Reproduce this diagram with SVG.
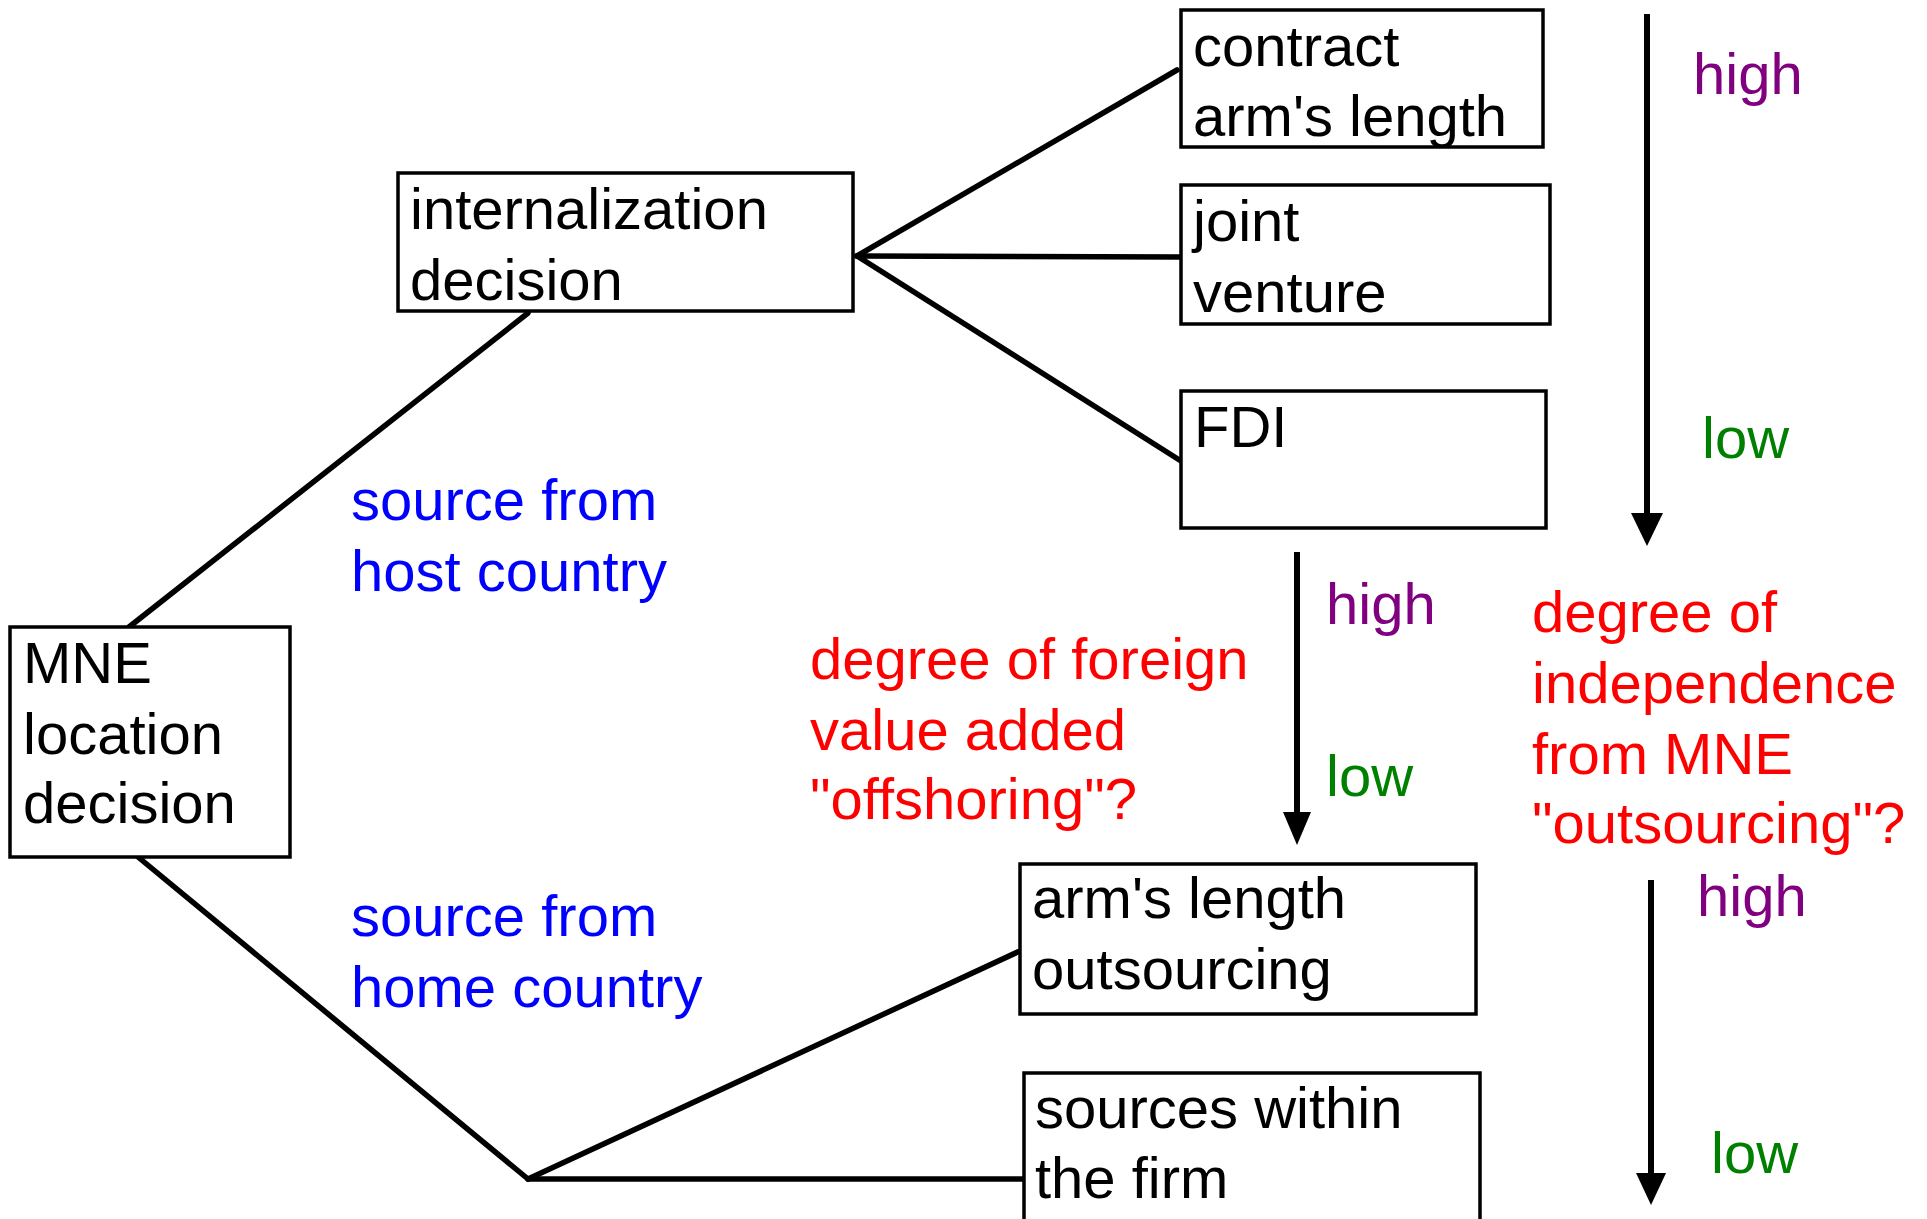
<svg xmlns="http://www.w3.org/2000/svg" width="1927" height="1219" viewBox="0 0 1927 1219">
<style>
text{font-family:"Liberation Sans",Arial,sans-serif;font-size:58px}
.box{fill:#fff;stroke:#000;stroke-width:3.5}
.ln{stroke:#000;stroke-width:5.5;fill:none;stroke-linecap:round}
.ar{stroke:#000;stroke-width:6;fill:none}
.hd{fill:#000}
.blk{fill:#000}
.pur{fill:#800080}
.grn{fill:#008000}
.red{fill:#ff0000}
.blu{fill:#0000ff}
</style>
<rect width="1927" height="1219" fill="#fff"/>
<g id="connectors">
<line class="ln" x1="129" y1="627" x2="528" y2="313"/>
<line class="ln" x1="132" y1="852" x2="528" y2="1179"/>
<line class="ln" x1="528" y1="1179" x2="1022" y2="950"/>
<line class="ln" x1="528" y1="1179" x2="1024" y2="1179"/>
<line class="ln" x1="857" y1="256" x2="1177" y2="70"/>
<line class="ln" x1="857" y1="256" x2="1181" y2="257"/>
<line class="ln" x1="857" y1="256" x2="1181" y2="461"/>
<line class="ar" x1="1647" y1="14" x2="1647" y2="515"/>
<path class="hd" d="M1631,513 L1663,513 L1647,546 Z"/>
<line class="ar" x1="1297" y1="552" x2="1297" y2="814"/>
<path class="hd" d="M1283,812 L1311,812 L1297,845 Z"/>
<line class="ar" x1="1651" y1="880" x2="1651" y2="1175"/>
<path class="hd" d="M1636,1173 L1666,1173 L1651,1205 Z"/>
</g>
<g id="mne">
<rect class="box" x="10" y="627" width="280" height="230"/>
<text class="blk" x="23" y="683">MNE</text>
<text class="blk" x="23" y="754">location</text>
<text class="blk" x="23" y="823">decision</text>
</g>
<g id="internalization">
<rect class="box" x="398" y="173" width="455" height="138"/>
<text class="blk" x="410" y="229">internalization</text>
<text class="blk" x="410" y="300">decision</text>
</g>
<g id="contract">
<rect class="box" x="1181" y="10" width="362" height="137"/>
<text class="blk" x="1193" y="66">contract</text>
<text class="blk" x="1193" y="136">arm's length</text>
</g>
<g id="joint">
<rect class="box" x="1181" y="185" width="369" height="139"/>
<text class="blk" x="1193" y="241">joint</text>
<text class="blk" x="1193" y="312">venture</text>
</g>
<g id="fdi">
<rect class="box" x="1181" y="391" width="365" height="137"/>
<text class="blk" x="1194" y="447">FDI</text>
</g>
<g id="armslength">
<rect class="box" x="1020" y="864" width="456" height="150"/>
<text class="blk" x="1032" y="918">arm's length</text>
<text class="blk" x="1032" y="989">outsourcing</text>
</g>
<g id="within">
<rect class="box" x="1024" y="1073" width="456" height="160"/>
<text class="blk" x="1035" y="1128">sources within</text>
<text class="blk" x="1035" y="1198">the firm</text>
</g>
<g id="labels">
<text class="blu" x="351" y="520">source from</text>
<text class="blu" x="351" y="591">host country</text>
<text class="blu" x="351" y="936">source from</text>
<text class="blu" x="351" y="1007">home country</text>
<text class="pur" x="1693" y="94">high</text>
<text class="grn" x="1702" y="458">low</text>
<text class="pur" x="1326" y="624">high</text>
<text class="grn" x="1326" y="796">low</text>
<text class="pur" x="1697" y="916">high</text>
<text class="grn" x="1711" y="1173">low</text>
<text class="red" x="810" y="679">degree of foreign</text>
<text class="red" x="810" y="750">value added</text>
<text class="red" x="810" y="819">"offshoring"?</text>
<text class="red" x="1532" y="632">degree of</text>
<text class="red" x="1532" y="703">independence</text>
<text class="red" x="1532" y="774">from MNE</text>
<text class="red" x="1532" y="843">"outsourcing"?</text>
</g>
</svg>
